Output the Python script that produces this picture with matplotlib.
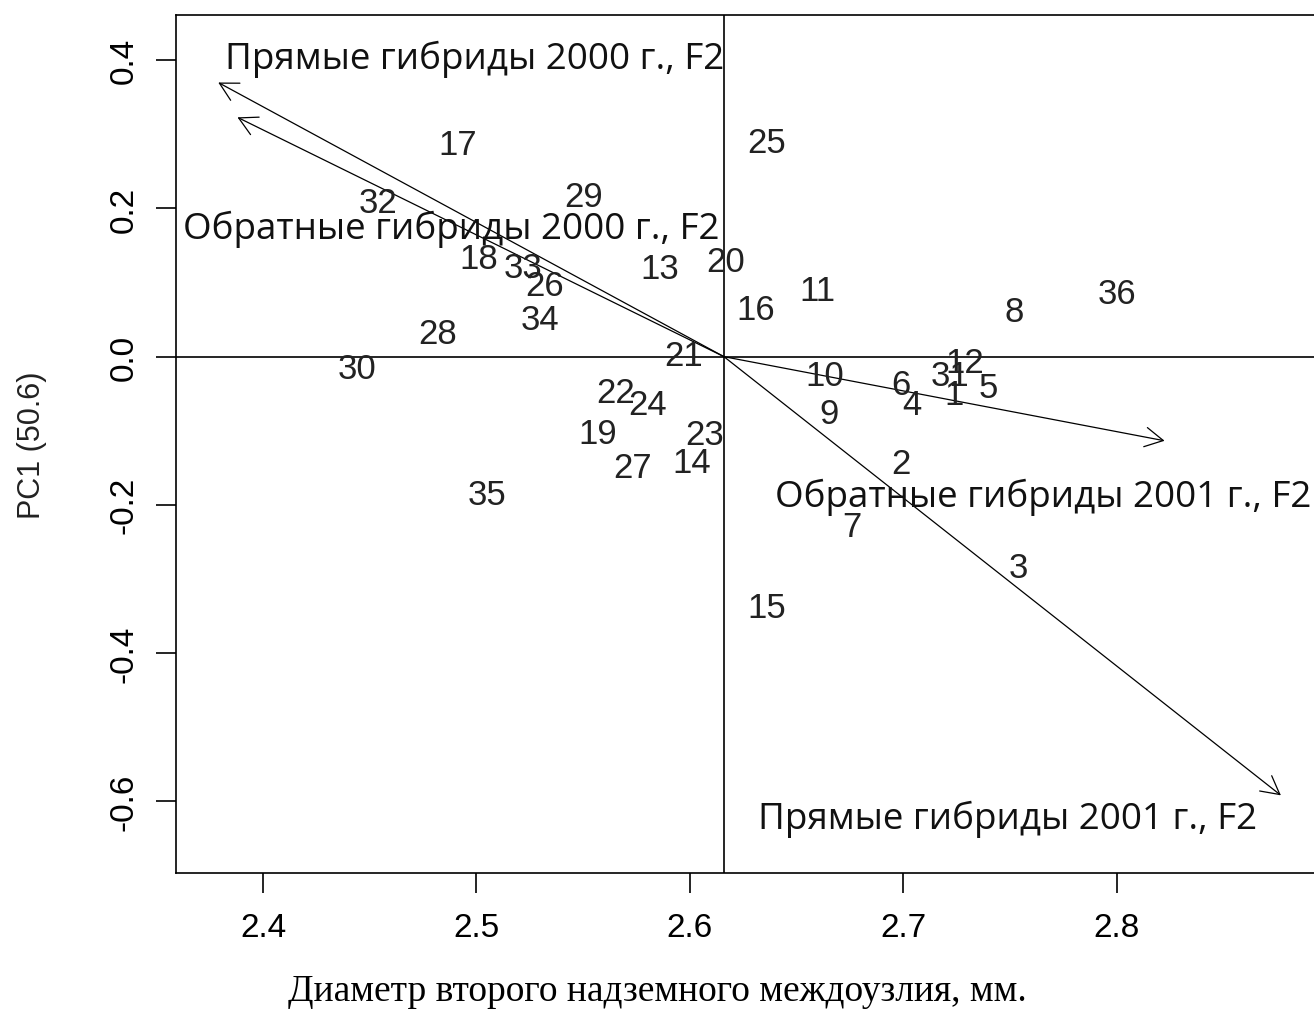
import matplotlib
matplotlib.use("Agg")
import matplotlib.pyplot as plt
from matplotlib.patches import FancyArrowPatch

# ---- data ----
labels = ["1", "2", "3", "4", "5", "6", "7", "8", "9", "10", "11", "12",
          "13", "14", "15", "16", "17", "18", "19", "20", "21", "22", "23", "24",
          "25", "26", "27", "28", "29", "30", "31", "32", "33", "34", "35", "36"]
x_vals = [2.724, 2.699, 2.754, 2.704, 2.740, 2.699, 2.676, 2.752, 2.665, 2.663, 2.660, 2.729,
          2.586, 2.601, 2.636, 2.631, 2.491, 2.501, 2.557, 2.617, 2.597, 2.565, 2.607, 2.580,
          2.636, 2.532, 2.573, 2.482, 2.550, 2.444, 2.722, 2.454, 2.522, 2.530, 2.505, 2.800]
y_vals = [-0.051, -0.144, -0.284, -0.064, -0.042, -0.037, -0.229, 0.061, -0.077, -0.026, 0.089, -0.008,
          0.119, -0.143, -0.339, 0.064, 0.287, 0.132, -0.104, 0.128, 0.002, -0.048, -0.105, -0.064,
          0.289, 0.096, -0.149, 0.031, 0.216, -0.016, -0.026, 0.208, 0.120, 0.050, -0.186, 0.085]

arrow_origin = (2.616, 0.0)
arrow_x = [2.379, 2.388, 2.8225, 2.877]
arrow_y = [0.370, 0.323, -0.1135, -0.592]
arrow_names = ["Прямые гибриды 2000 г., F2", "Обратные гибриды 2000 г., F2",
               "Обратные гибриды 2001 г., F2", "Прямые гибриды 2001 г., F2"]
arrow_label_x = [2.499, 2.488, 2.7658, 2.749]
arrow_label_y = [0.402, 0.173, -0.188, -0.623]

x_ticks = [2.4, 2.5, 2.6, 2.7, 2.8]
x_ticklabels = ["2.4", "2.5", "2.6", "2.7", "2.8"]
y_ticks = [0.4, 0.2, 0.0, -0.2, -0.4, -0.6]
y_ticklabels = ["0.4", "0.2", "0.0", "-0.2", "-0.4", "-0.6"]

x_title = "Диаметр второго надземного междоузлия, мм."
y_title = "PC1 (50.6)"

# ---- figure ----
W, H = 1314, 1012
fig = plt.figure(figsize=(W / 100, H / 100), dpi=100)
ax = fig.add_axes([176 / W, 1 - 874 / H, (1340 - 176) / W, (874 - 15.7) / H])
ax.set_xlim(2.3592, 2.9047)
ax.set_ylim(-0.6968, 0.4615)

for s in ax.spines.values():
    s.set_linewidth(1.2)
    s.set_color("black")
ax.spines["right"].set_visible(False)

ax.axhline(0, color="black", lw=1.2, zorder=1)
ax.axvline(arrow_origin[0], color="black", lw=1.2, zorder=1)

num_font = ["Liberation Sans", "DejaVu Sans"]
for lab, xv, yv in zip(labels, x_vals, y_vals):
    ax.text(xv, yv, lab, ha="center", va="center", fontsize=25,
            family=num_font, color="#222222", zorder=3)

for ex, ey in zip(arrow_x, arrow_y):
    arr = FancyArrowPatch(arrow_origin, (ex, ey),
                          arrowstyle="->,head_length=0.65,head_width=0.35",
                          mutation_scale=20, lw=0.9, color="black",
                          shrinkA=0, shrinkB=0, zorder=2)
    ax.add_patch(arr)

for name, lx, ly in zip(arrow_names, arrow_label_x, arrow_label_y):
    ax.text(lx, ly, name, ha="center", va="center", fontsize=26.5,
            family=["Open Sans", "DejaVu Sans"], color="#111111", zorder=4)

ax.set_xticks(x_ticks)
ax.set_xticklabels(x_ticklabels, family=num_font, fontsize=24)
ax.set_yticks(y_ticks)
ax.set_yticklabels(y_ticklabels, family=num_font, fontsize=24,
                   rotation=90, va="center")
ax.tick_params(axis="both", length=14.4, width=1.2, color="black")
ax.tick_params(axis="x", pad=14)
ax.tick_params(axis="y", pad=12)

fig.text(32 / W, 1 - 445 / H, y_title, rotation=90, ha="center", va="center",
         fontsize=22, family=num_font, color="#222222")
fig.text(657 / W, 1 - 992 / H, x_title, ha="center", va="center",
         fontsize=27, family=["Liberation Serif", "DejaVu Serif"], color="black")

fig.savefig("out.png", dpi=100)
